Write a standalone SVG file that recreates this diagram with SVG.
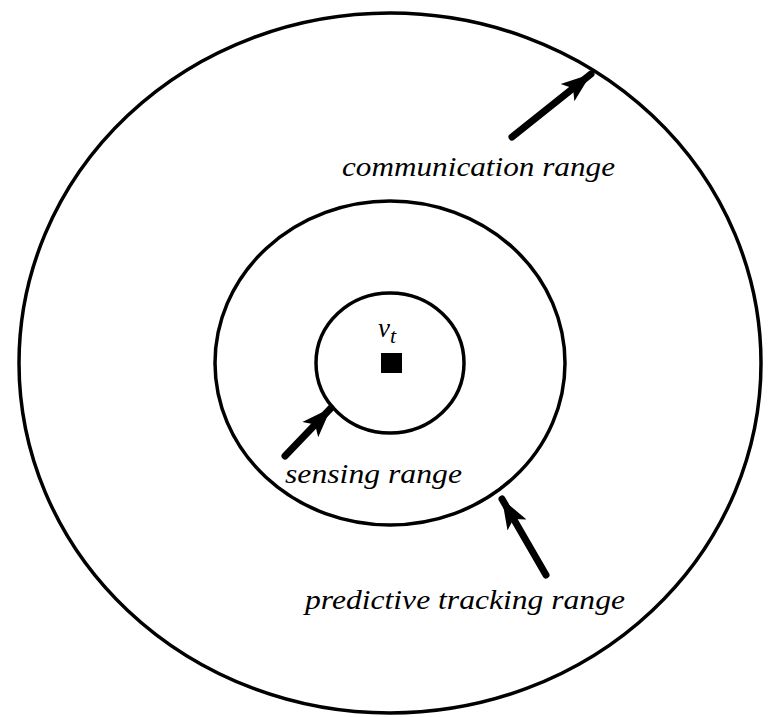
<svg xmlns="http://www.w3.org/2000/svg" width="769" height="717" viewBox="0 0 769 717">
<style>
.ring{fill:none;stroke:#000;stroke-width:3.5}
.arr{stroke:#000;stroke-width:7;stroke-linecap:round;fill:none;marker-end:url(#head)}
.lbl{font-family:"Liberation Serif",serif;font-style:italic;font-size:27px;fill:#000}
</style>
<defs>
<marker id="head" markerUnits="userSpaceOnUse" markerWidth="34" markerHeight="26" refX="30" refY="12" orient="auto">
<path d="M0,1 L30,12 L0,23 L7,12 Z" fill="#000"/>
</marker>
</defs>
<rect width="769" height="717" fill="#fff"/>
<g id="communication-range">
<ellipse class="ring" cx="390" cy="363" rx="371" ry="350"/>
</g>
<g id="predictive-tracking-range">
<ellipse class="ring" cx="390" cy="363" rx="175" ry="162"/>
</g>
<g id="sensing-range">
<ellipse class="ring" cx="390" cy="363" rx="74" ry="70"/>
</g>
<g id="vt">
<rect x="381" y="353" width="21" height="20" fill="#000"/>
<text x="378" y="337" class="lbl" font-size="30">v<tspan font-size="22" dy="6">t</tspan></text>
</g>
<g id="connectors">
<line class="arr" x1="512" y1="137" x2="591" y2="74"/>
<line class="arr" x1="285" y1="456" x2="331" y2="408"/>
<line class="arr" x1="546" y1="575" x2="502" y2="499"/>
</g>
<g id="labels">
<text class="lbl" x="342" y="176" textLength="273" lengthAdjust="spacingAndGlyphs">communication range</text>
<text class="lbl" x="285" y="483" textLength="177" lengthAdjust="spacingAndGlyphs">sensing range</text>
<text class="lbl" x="305" y="609" textLength="320" lengthAdjust="spacingAndGlyphs">predictive tracking range</text>
</g>
</svg>
